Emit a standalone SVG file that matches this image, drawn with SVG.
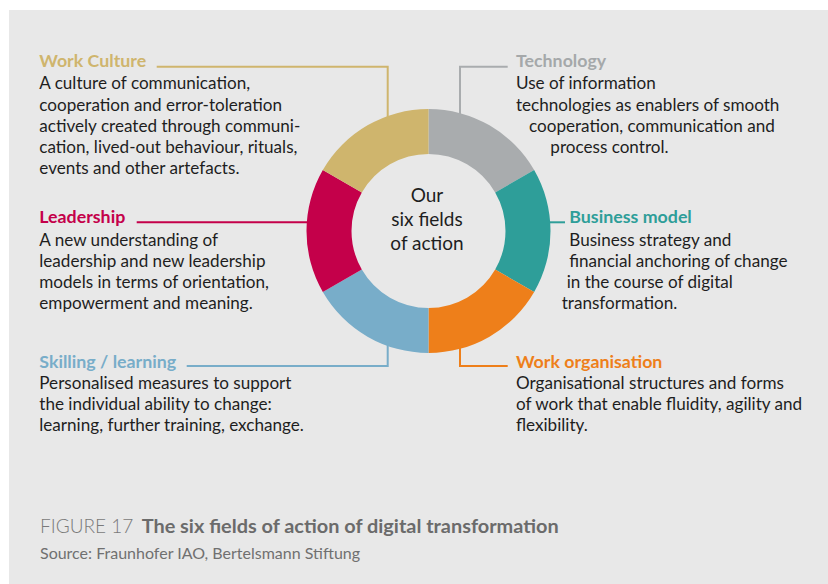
<svg xmlns="http://www.w3.org/2000/svg" width="828" height="584" viewBox="0 0 828 584">
<style>
  text { font-family: Lato, "Open Sans", "Liberation Sans", sans-serif; }
  .h { font-size: 17.8px; font-weight: 700; }
  .b { font-size: 17.1px; fill: #1e1e1e; }
  .c { font-size: 19px; fill: #1e1e1e; text-anchor: middle; }
  .ln { fill: none; stroke-width: 2; }
</style>
<rect x="0" y="0" width="828" height="584" fill="#ffffff"/>
<rect x="9" y="10" width="819" height="574" fill="#e8e8e8"/>

<g id="connectors">
  <polyline class="ln" stroke="#cfb56d" points="156.7,66.7 387.7,66.7 387.7,120"/>
  <polyline class="ln" stroke="#a9acae" points="460,120 460,66.7 507.7,66.7"/>
  <polyline class="ln" stroke="#c4004a" points="136.7,222.3 310,222.3"/>
  <polyline class="ln" stroke="#78adc9" points="186.7,366 387.7,366 387.7,342"/>
  <polyline class="ln" stroke="#2e9e99" points="546,222.3 565,222.3"/>
  <polyline class="ln" stroke="#ee7f1a" points="460,342 460,366 507.7,366"/>
</g>

<g id="ring">
  <path id="seg-technology" fill="#a9acae" d="M428.5,109 A122,122 0 0 1 534.16,170 L495.18,192.5 A77,77 0 0 0 428.5,154 Z"/>
  <path id="seg-business" fill="#2e9e99" d="M534.16,170 A122,122 0 0 1 534.16,292 L495.18,269.5 A77,77 0 0 0 495.18,192.5 Z"/>
  <path id="seg-workorg" fill="#ee7f1a" d="M534.16,292 A122,122 0 0 1 428.5,353 L428.5,308 A77,77 0 0 0 495.18,269.5 Z"/>
  <path id="seg-skilling" fill="#78adc9" d="M428.5,353 A122,122 0 0 1 322.84,292 L361.82,269.5 A77,77 0 0 0 428.5,308 Z"/>
  <path id="seg-leadership" fill="#c4004a" d="M322.84,292 A122,122 0 0 1 322.84,170 L361.82,192.5 A77,77 0 0 0 361.82,269.5 Z"/>
  <path id="seg-culture" fill="#cfb56d" d="M322.84,170 A122,122 0 0 1 428.5,109 L428.5,154 A77,77 0 0 0 361.82,192.5 Z"/>
</g>

<g id="center">
  <text class="c" x="427" y="201.7">Our</text>
  <text class="c" x="427" y="226">six fields</text>
  <text class="c" x="427" y="249.5">of action</text>
</g>

<g id="work-culture">
  <text class="h" x="39.3" y="66.7" fill="#cfb56d">Work Culture</text>
  <text class="b" x="39.3" y="89.3">A culture of communication,</text>
  <text class="b" x="39.3" y="110.7">cooperation and error-toleration</text>
  <text class="b" x="39.3" y="131.7">actively created through communi-</text>
  <text class="b" x="39.3" y="152.7">cation, lived-out behaviour, rituals,</text>
  <text class="b" x="39.3" y="174">events and other artefacts.</text>
</g>

<g id="technology">
  <text class="h" x="516" y="66.7" fill="#a5a8aa">Technology</text>
  <text class="b" x="516" y="89.3">Use of information</text>
  <text class="b" x="516" y="110.7">technologies as enablers of smooth</text>
  <text class="b" x="529" y="131.7">cooperation, communication and</text>
  <text class="b" x="550.3" y="152.7">process control.</text>
</g>

<g id="leadership">
  <text class="h" x="39.3" y="223.3" fill="#c4004a">Leadership</text>
  <text class="b" x="39.3" y="245.5">A new understanding of</text>
  <text class="b" x="39.3" y="266.5">leadership and new leadership</text>
  <text class="b" x="39.3" y="287.5">models in terms of orientation,</text>
  <text class="b" x="39.3" y="308.5">empowerment and meaning.</text>
</g>

<g id="business-model">
  <text class="h" x="569.3" y="223.3" fill="#2e9e99">Business model</text>
  <text class="b" x="569.3" y="245.5">Business strategy and</text>
  <text class="b" x="569.3" y="266.5">financial anchoring of change</text>
  <text class="b" x="566.7" y="287.5">in the course of digital</text>
  <text class="b" x="561.7" y="308.5">transformation.</text>
</g>

<g id="skilling">
  <text class="h" x="39.3" y="368.3" fill="#78adc9">Skilling / learning</text>
  <text class="b" x="39.3" y="389">Personalised measures to support</text>
  <text class="b" x="39.3" y="410.3">the individual ability to change:</text>
  <text class="b" x="39.3" y="431.3">learning, further training, exchange.</text>
</g>

<g id="work-organisation">
  <text class="h" x="516" y="368.3" fill="#ee7f1a">Work organisation</text>
  <text class="b" x="516" y="389">Organisational structures and forms</text>
  <text class="b" x="516" y="410.3">of work that enable fluidity, agility and</text>
  <text class="b" x="516" y="431.3">flexibility.</text>
</g>

<g id="caption">
  <text x="40" y="533.3" font-size="19" fill="#7a7a7a"><tspan font-weight="300">FIGURE 17</tspan><tspan x="141.7" font-size="19.9" font-weight="700" fill="#6b6b6b">The six fields of action of digital transformation</tspan></text>
  <text x="40" y="559.3" font-size="16" fill="#707070">Source: Fraunhofer IAO, Bertelsmann Stiftung</text>
</g>
</svg>
